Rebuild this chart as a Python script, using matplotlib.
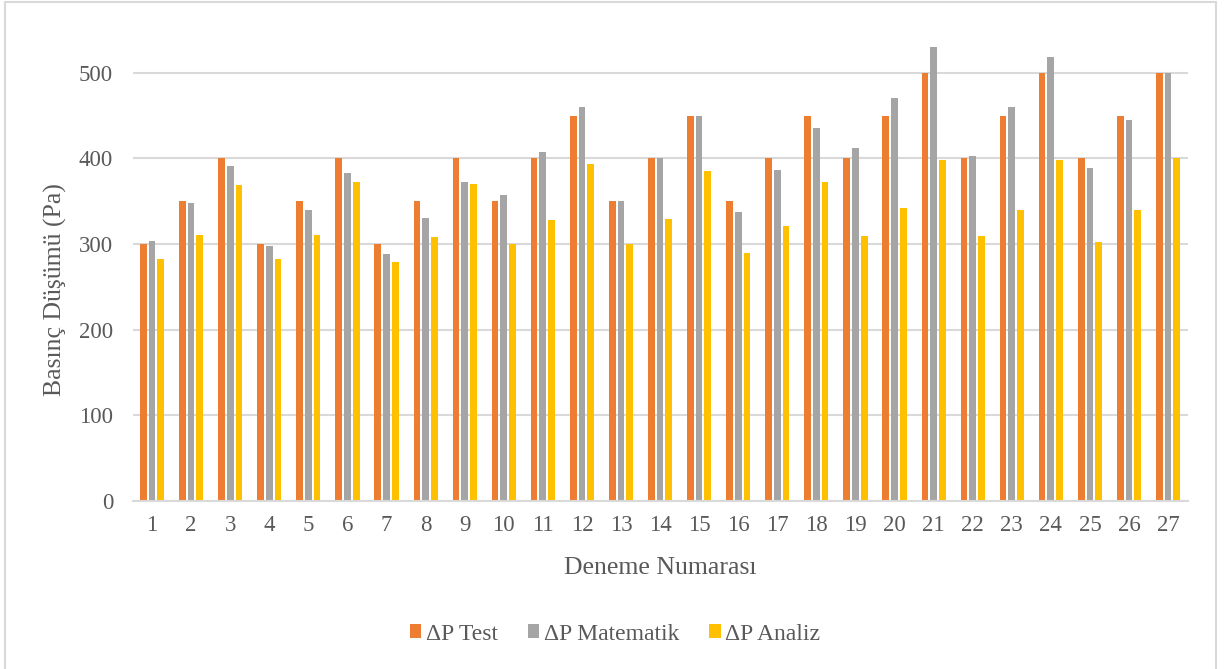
import matplotlib
matplotlib.use("Agg")
import matplotlib.pyplot as plt
from matplotlib.patches import Rectangle
import numpy as np

# Deneme numaraları ve basınç düşümü değerleri (Pa)
trials = [str(i) for i in range(1, 28)]
dp_test = [300, 350, 400, 300, 350, 400, 300, 350, 400, 350,
           400, 450, 350, 400, 450, 350, 400, 450, 400, 450,
           500, 400, 450, 500, 400, 450, 500]
dp_matematik = [304, 348, 391, 298, 340, 383, 289, 330, 372, 357,
                408, 460, 350, 400, 450, 338, 387, 435, 412, 471,
                530, 403, 460, 518, 389, 445, 500]
dp_analiz = [283, 311, 369, 283, 311, 372, 279, 308, 370, 300,
             328, 393, 300, 329, 385, 290, 321, 372, 310, 342,
             398, 309, 340, 398, 303, 340, 400]

series_names = ["ΔP Test", "ΔP Matematik", "ΔP Analiz"]
colors = ["#ED7D31", "#A5A5A5", "#FFC000"]
yticks = [0, 100, 200, 300, 400, 500]

plt.rcParams["font.family"] = ["Liberation Serif", "DejaVu Serif"]
text_color = "#595959"

W, H, DPI = 1225, 669, 100
fig = plt.figure(figsize=(W / DPI, H / DPI), dpi=DPI)

# outer chart frame (bottom edge runs off the canvas)
fig.add_artist(Rectangle((5 / W, -0.05), (1216 - 5) / W, 1.05 - 2 / H,
                         transform=fig.transFigure, fill=False,
                         edgecolor="#D9D9D9", linewidth=1.5))

ax = fig.add_axes([132.5 / W, 1 - 501 / H, (1187.6 - 132.5) / W, (501 - 30) / H])

x = np.arange(len(trials))
bw = 0.172
step = 0.223
for i, (vals, name, c) in enumerate(zip([dp_test, dp_matematik, dp_analiz], series_names, colors)):
    ax.bar(x + (i - 1) * step, vals, width=bw, color=c, label=name, zorder=3)

ax.set_xlim(-0.5, len(trials) - 0.5)
ax.set_ylim(0, 550)
ax.set_yticks(yticks)
ax.set_xticks(x)
ax.set_xticklabels(trials)

ax.yaxis.grid(True, color="#D9D9D9", linewidth=1.5, zorder=0)
ax.set_axisbelow(True)
for s in ["top", "right", "left"]:
    ax.spines[s].set_visible(False)
ax.spines["bottom"].set_color("#D9D9D9")
ax.spines["bottom"].set_linewidth(1.5)
ax.spines["bottom"].set_zorder(4)

ax.tick_params(axis="y", length=0, pad=14, labelsize=16.5, labelcolor=text_color)
ax.tick_params(axis="x", length=0, pad=10, labelsize=16.5, labelcolor=text_color)

fig.text(55 / W, 1 - 290 / H, "Basınç Düşümü (Pa)", rotation=90,
         ha="center", va="center", fontsize=18.5, color=text_color)
fig.text(660 / W, 1 - 568 / H, "Deneme Numarası", ha="center", va="center",
         fontsize=18.5, color=text_color)

fig.legend(loc="center", bbox_to_anchor=(615 / W, 1 - 634 / H), ncol=3,
           frameon=False, fontsize=17, labelcolor=text_color,
           handlelength=0.5, handleheight=0.5, handletextpad=0.2,
           columnspacing=1.25)

fig.savefig("out.png", dpi=DPI)
